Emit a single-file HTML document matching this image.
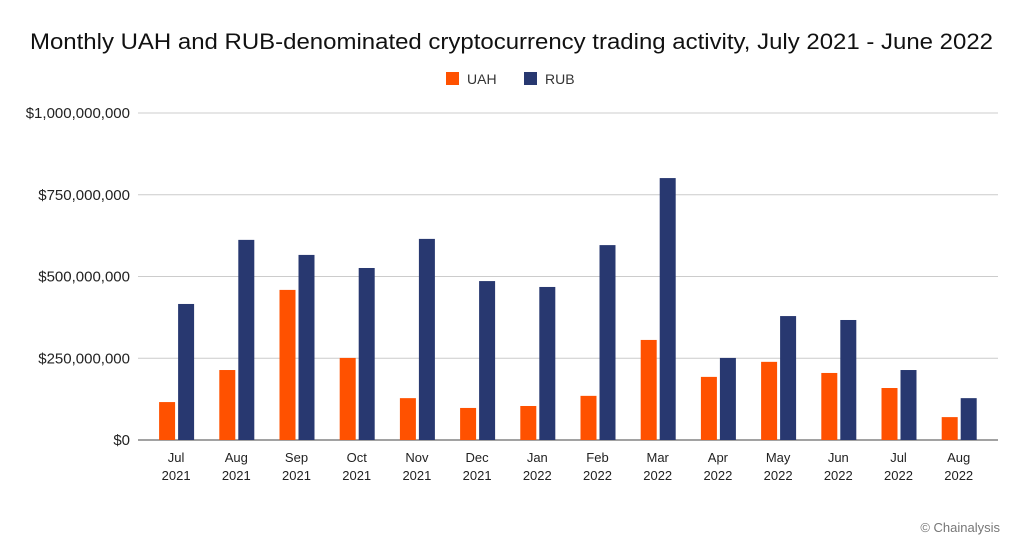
<!DOCTYPE html>
<html><head><meta charset="utf-8"><style>
body{margin:0;background:#fff;width:1024px;height:547px;overflow:hidden;font-family:"Liberation Sans",sans-serif}
</style></head><body>
<svg id="chart" width="1024" height="547" xmlns="http://www.w3.org/2000/svg" font-family="Liberation Sans, sans-serif">
<text x="30" y="49" textLength="963" lengthAdjust="spacingAndGlyphs" font-size="22" fill="#111">Monthly UAH and RUB-denominated cryptocurrency trading activity, July 2021 - June 2022</text>
<g>
<rect x="446" y="72" width="13" height="13" fill="#FF5100"/>
<text x="467" y="84" font-size="14" fill="#333">UAH</text>
<rect x="524" y="72" width="13" height="13" fill="#283870"/>
<text x="545" y="84" font-size="14" fill="#333">RUB</text>
</g>
<g id="grid"></g><g id="bars"></g><g id="xlabels"></g>
<text x="1000" y="532" text-anchor="end" font-size="13" fill="#777">© Chainalysis</text>
</svg>
<script>
const months=["Jul","Aug","Sep","Oct","Nov","Dec","Jan","Feb","Mar","Apr","May","Jun","Jul","Aug"];
const years=["2021","2021","2021","2021","2021","2021","2022","2022","2022","2022","2022","2022","2022","2022"];
const uah=[116,214,459,251,128,98,104,135,306,193,239,205,159,70];
const rub=[416,612,566,526,615,486,468,596,801,251,379,367,214,128];
const yTicks=[0,250,500,750,1000];
const yTickLabels=["$0","$250,000,000","$500,000,000","$750,000,000","$1,000,000,000"];
const NS="http://www.w3.org/2000/svg";
const y0=440,y1=113,xL=146,band=60.2;
const y=v=>y0-(v/1000)*(y0-y1);
const xc=i=>xL+band*(i+0.5);
function mk(t,a,p,txt){const e=document.createElementNS(NS,t);for(const k in a)e.setAttribute(k,a[k]);if(txt!==undefined)e.textContent=txt;p.appendChild(e);return e;}
const grid=document.getElementById('grid'),bars=document.getElementById('bars'),xl=document.getElementById('xlabels');
yTicks.forEach((t,i)=>{
 const l=mk('line',{x1:138,x2:998,y1:y(t),y2:y(t),stroke:i==0?'#444':'#ccc','stroke-width':1},grid);
 
 
 const tx=mk('text',{x:130,y:y(t)+5,'text-anchor':'end','font-size':15,fill:'#222'},grid,yTickLabels[i]);
 
 
});
months.forEach((m,i)=>{
 const c=xc(i);
 const a=mk('rect',{x:c-17,y:y(uah[i]),width:16,height:y0-y(uah[i]),fill:'#FF5100'},bars);
 
 
 const b=mk('rect',{x:c+2,y:y(rub[i]),width:16,height:y0-y(rub[i]),fill:'#283870'},bars);
 
 
 const t1=mk('text',{x:c,y:462,'text-anchor':'middle','font-size':13,fill:'#222'},xl,m);
 
 
 const t2=mk('text',{x:c,y:480,'text-anchor':'middle','font-size':13,fill:'#222'},xl,years[i]);
 
 
});
</script>
</body></html>
